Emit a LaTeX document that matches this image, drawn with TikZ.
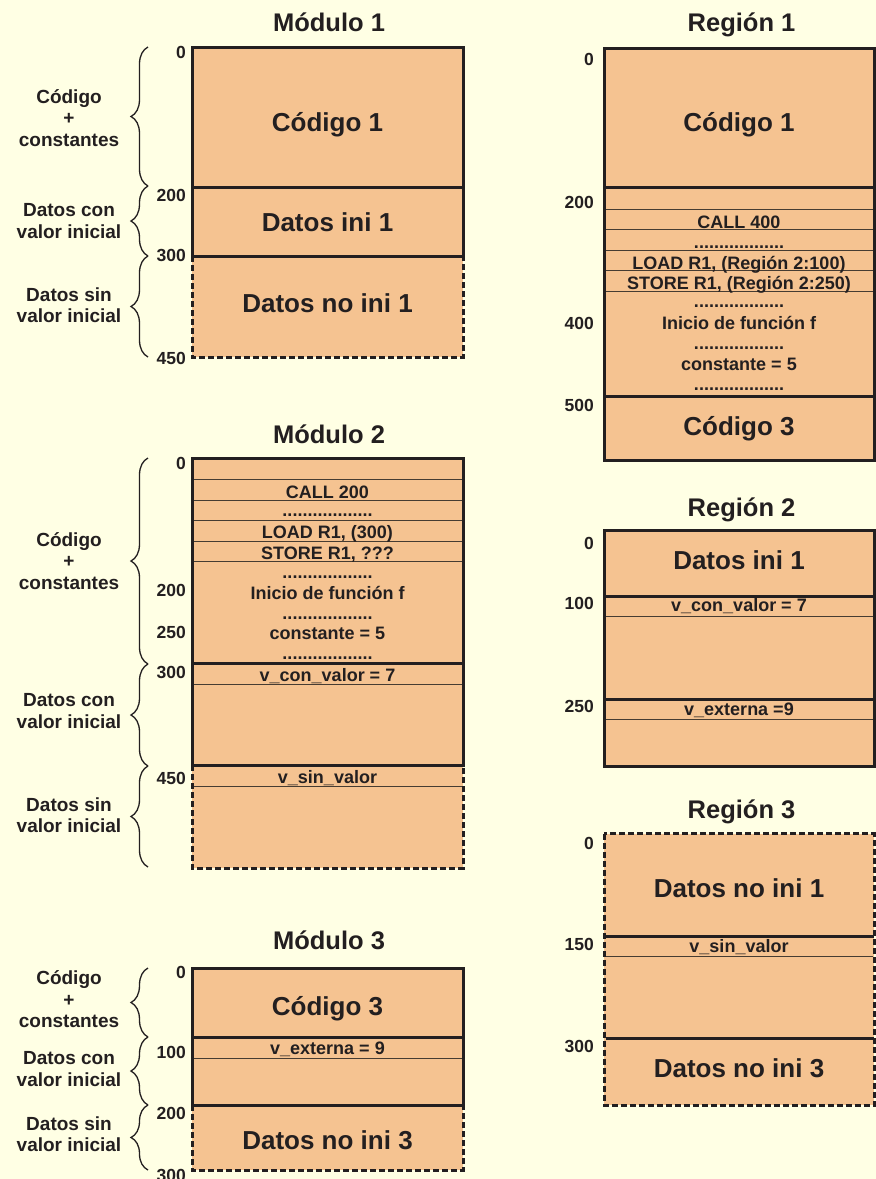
\documentclass[tikz,border=0pt]{standalone}
\usepackage{fontspec}
\setmainfont{Liberation Sans}
\usetikzlibrary{decorations.pathreplacing}
\definecolor{bgc}{RGB}{255,255,228}
\definecolor{boxfill}{RGB}{245,195,145}
\definecolor{dk}{RGB}{35,31,32}
\definecolor{thinc}{RGB}{70,60,50}
\tikzset{
  solidbox/.style={draw=dk, line width=3pt, fill=boxfill},
  dashbox/.style={draw=dk, line width=3pt, fill=boxfill, dash pattern=on 6pt off 3pt},
  thickline/.style={draw=dk, line width=3pt},
  thinline/.style={draw=thinc, line width=1pt},
  bigtxt/.style={font=\fontsize{26}{30}\selectfont\bfseries, text=dk, inner sep=0pt, anchor=base},
  smalltxt/.style={font=\fontsize{18}{20}\selectfont\bfseries, text=dk, inner sep=0pt, anchor=base},
  dotstxt/.style={font=\fontsize{18}{20}\selectfont\bfseries, text=dk, inner sep=0pt, anchor=base},
  numtxt/.style={font=\fontsize{17.5}{20}\selectfont\bfseries, text=dk, inner sep=0pt, anchor=east},
  labtxt/.style={font=\fontsize{19}{21.5}\selectfont\bfseries, text=dk, align=center, inner sep=0pt},
  titletxt/.style={font=\fontsize{25.5}{30}\selectfont\bfseries, text=dk, inner sep=0pt, anchor=base},
  brc/.style={draw=dk, line width=1.3pt, decorate, decoration={brace, amplitude=17pt}}
}
\newcommand{\dotrow}{..................}
\begin{document}
\begin{tikzpicture}[x=1pt,y=-1pt]
\useasboundingbox (0,0) rectangle (876,1179);
\fill[bgc] (0,0) rectangle (876,1179);

% ================= Módulo 1 =================
\node[titletxt] (m1t) at (329,31) {Módulo 1};
\draw[dashbox] (192,256) rectangle (463,357);
\draw[solidbox] (192,47) rectangle (463,256);
\draw[thickline] (192,187) -- (464,187);
\node[bigtxt] (m1a) at (327.5,131) {Código 1};
\node[bigtxt] (m1b) at (327.5,231) {Datos ini 1};
\node[bigtxt] (m1c) at (327.5,312.6) {Datos no ini 1};
\node[numtxt] (m1n0) at (186,52) {0};
\node[numtxt] (m1n1) at (186,195) {200};
\node[numtxt] (m1n2) at (186,255) {300};
\node[numtxt] (m1n3) at (186,358) {450};
\draw[brc] (148,186) -- (148,47);
\draw[brc] (148,256) -- (148,186);
\draw[brc] (148,357) -- (148,256);
\node[labtxt] (m1l1) at (69,118) {Código\\+\\constantes};
\node[labtxt] (m1l2) at (69,221) {Datos con\\valor inicial};
\node[labtxt] (m1l3) at (69,305) {Datos sin\\valor inicial};

% ================= Módulo 2 =================
\node[titletxt] (m2t) at (329,443.3) {Módulo 2};
\draw[dashbox] (192,765) rectangle (463,868);
\draw[solidbox] (192,458) rectangle (463,765);
\foreach \yy in {479.5,500,520.5,541,561.5,684}{\draw[thinline] (193.5,\yy) -- (461.5,\yy);}
\draw[thinline] (193.5,786) -- (461.5,786);
\draw[thickline] (192,663.5) -- (463,663.5);
\draw[thickline] (192,765) -- (463,765);
\node[smalltxt] (m2a) at (327.5,498) {CALL 200};
\node[dotstxt] (m2d1) at (327.5,516.5) {\dotrow};
\node[smalltxt] (m2b) at (327.5,538) {LOAD R1, (300)};
\node[smalltxt] (m2c) at (327.5,559) {STORE R1, ???};
\node[dotstxt] (m2d2) at (327.5,578) {\dotrow};
\node[smalltxt] (m2e) at (327.5,599) {Inicio de función f};
\node[dotstxt] (m2d3) at (327.5,619) {\dotrow};
\node[smalltxt] (m2f) at (327.5,639.7) {constante = 5};
\node[dotstxt] (m2d4) at (327.5,659.5) {\dotrow};
\node[smalltxt] (m2g) at (327.5,681.4) {v\_con\_valor = 7};
\node[smalltxt] (m2h) at (327.5,783.7) {v\_sin\_valor};
\node[numtxt] (m2n0) at (186,463) {0};
\node[numtxt] (m2n1) at (186,590) {200};
\node[numtxt] (m2n2) at (186,632) {250};
\node[numtxt] (m2n3) at (186,672) {300};
\node[numtxt] (m2n4) at (186,778) {450};
\draw[brc] (148,664) -- (148,458);
\draw[brc] (148,766) -- (148,664);
\draw[brc] (148,867) -- (148,766);
\node[labtxt] (m2l1) at (69,561) {Código\\+\\constantes};
\node[labtxt] (m2l2) at (69,711) {Datos con\\valor inicial};
\node[labtxt] (m2l3) at (69,815) {Datos sin\\valor inicial};

% ================= Módulo 3 =================
\node[titletxt] (m3t) at (329,949) {Módulo 3};
\draw[dashbox] (192,1105) rectangle (463,1170);
\draw[solidbox] (192,968) rectangle (463,1105);
\draw[thickline] (192,1037) -- (463,1037);
\draw[thinline] (193.5,1058) -- (461.5,1058);
\node[bigtxt] (m3a) at (327.5,1015.3) {Código 3};
\node[smalltxt] (m3b) at (327.5,1054.7) {v\_externa = 9};
\node[bigtxt] (m3c) at (327.5,1149.3) {Datos no ini 3};
\node[numtxt] (m3n0) at (186,972) {0};
\node[numtxt] (m3n1) at (186,1052) {100};
\node[numtxt] (m3n2) at (186,1113) {200};
\node[numtxt] (m3n3) at (186,1175) {300};
\draw[brc] (148,1037) -- (148,968);
\draw[brc] (148,1105) -- (148,1037);
\draw[brc] (148,1170) -- (148,1105);
\node[labtxt] (m3l1) at (69,999.5) {Código\\+\\constantes};
\node[labtxt] (m3l2) at (69,1069) {Datos con\\valor inicial};
\node[labtxt] (m3l3) at (69,1134) {Datos sin\\valor inicial};

% ================= Región 1 =================
\node[titletxt] (r1t) at (741.5,31) {Región 1};
\draw[solidbox] (604,48) rectangle (874,460);
\foreach \yy in {209.5,229.5,250,270.5,291}{\draw[thinline] (605.5,\yy) -- (872.5,\yy);}
\draw[thickline] (604,187) -- (874,187);
\draw[thickline] (604,396) -- (874,396);
\node[bigtxt] (r1a) at (739,131) {Código 1};
\node[smalltxt] (r1b) at (739,228) {CALL 400};
\node[dotstxt] (r1d1) at (739,248) {\dotrow};
\node[smalltxt] (r1c) at (739,269) {LOAD R1, (Región 2:100)};
\node[smalltxt] (r1e) at (739,289.7) {STORE R1, (Región 2:250)};
\node[dotstxt] (r1d2) at (739,307.5) {\dotrow};
\node[smalltxt] (r1f) at (739,329.7) {Inicio de función f};
\node[dotstxt] (r1d3) at (739,349) {\dotrow};
\node[smalltxt] (r1g) at (739,370.7) {constante = 5};
\node[dotstxt] (r1d4) at (739,390) {\dotrow};
\node[bigtxt] (r1h) at (739,435.3) {Código 3};
\node[numtxt] (r1n0) at (594,59) {0};
\node[numtxt] (r1n1) at (594,202) {200};
\node[numtxt] (r1n2) at (594,323) {400};
\node[numtxt] (r1n3) at (594,405) {500};

% ================= Región 2 =================
\node[titletxt] (r2t) at (741.5,516.7) {Región 2};
\draw[solidbox] (604,530) rectangle (874,766);
\draw[thinline] (605.5,616) -- (872.5,616);
\draw[thinline] (605.5,719) -- (872.5,719);
\draw[thickline] (604,596) -- (874,596);
\draw[thickline] (604,699.5) -- (874,699.5);
\node[bigtxt] (r2a) at (739,569.3) {Datos ini 1};
\node[smalltxt] (r2b) at (739,611.4) {v\_con\_valor = 7};
\node[smalltxt] (r2c) at (739,715.4) {v\_externa =9};
\node[numtxt] (r2n0) at (594,543) {0};
\node[numtxt] (r2n1) at (594,603) {100};
\node[numtxt] (r2n2) at (594,706) {250};

% ================= Región 3 =================
\node[titletxt] (r3t) at (741.5,818.3) {Región 3};
\draw[dashbox] (604,833.5) rectangle (874,1105);
\draw[thinline] (605.5,956) -- (872.5,956);
\draw[thickline] (605.5,936) -- (874,936);
\draw[thickline] (605.5,1038.5) -- (874,1038.5);
\node[bigtxt] (r3a) at (739,897.6) {Datos no ini 1};
\node[smalltxt] (r3b) at (739,952) {v\_sin\_valor};
\node[bigtxt] (r3c) at (739,1077.6) {Datos no ini 3};
\node[numtxt] (r3n0) at (594,843) {0};
\node[numtxt] (r3n1) at (594,944) {150};
\node[numtxt] (r3n2) at (594,1046) {300};
\end{tikzpicture}
\end{document}
